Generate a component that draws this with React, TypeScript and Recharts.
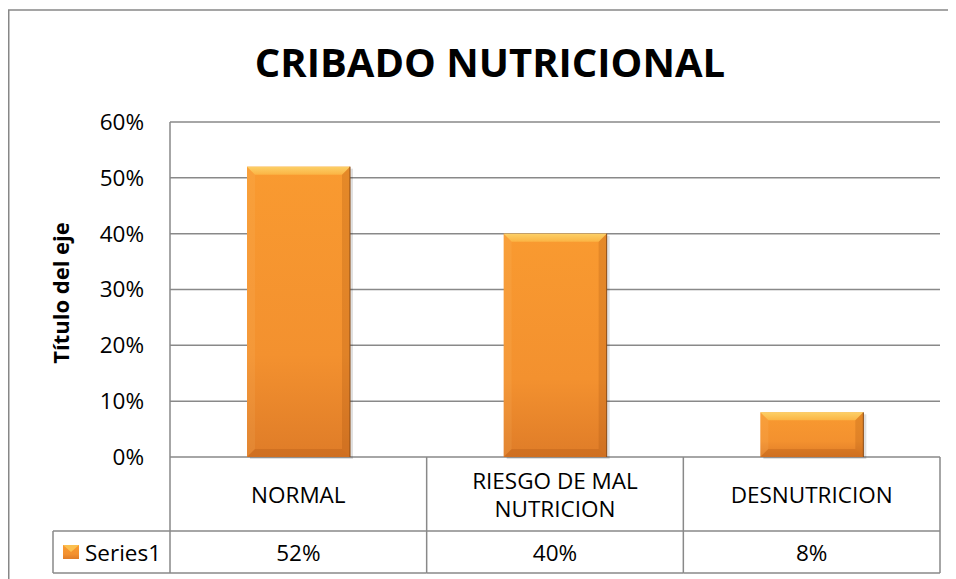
import { Bar, BarChart, CartesianGrid, Customized, XAxis, YAxis } from 'recharts'

const categories = ['NORMAL', 'RIESGO DE MAL NUTRICION', 'DESNUTRICION']
const series1 = [52, 40, 8]
const yTicks = [0, 10, 20, 30, 40, 50, 60]
const seriesName = 'Series1'
const chartTitle = 'CRIBADO NUTRICIONAL'
const yAxisTitle = 'Título del eje'

const data = categories.map((name, i) => ({ name, value: series1[i] }))

const W = 948
const H = 571
const PLOT_RIGHT = 932
const PLOT_LEFT = 162
const PLOT_BOTTOM = 449
const ROW1_BOTTOM = 523
const ROW2_BOTTOM = 565
const TABLE_LEFT = 45
const BAND = (PLOT_RIGHT - PLOT_LEFT) / categories.length
const LINE = '#898989'
const FONT = '"Open Sans", sans-serif'

function wrapLabel(text: string, maxChars = 14) {
  const lines: string[] = []
  let cur = ''
  for (const word of text.split(' ')) {
    const next = cur ? cur + ' ' + word : word
    if (next.length > maxChars && cur) {
      lines.push(cur)
      cur = word
    } else {
      cur = next
    }
  }
  if (cur) lines.push(cur)
  return lines
}

function BevelBar(props: any) {
  const { x, y, width: w, height: h } = props
  if (!h || h <= 0) return null
  const b = Math.min(8, h / 2)
  return (
    <g>
      <rect x={x + 3} y={y + 2} width={w} height={h} fill="rgba(0,0,0,0.12)" />
      <rect x={x} y={y} width={w} height={h} fill="url(#barGrad)" />
      <polygon
        points={`${x},${y} ${x + w},${y} ${x + w - b},${y + b} ${x + b},${y + b}`}
        fill="url(#topBevel)"
      />
      <polygon
        points={`${x + w},${y} ${x + w},${y + h} ${x + w - b},${y + h - b} ${x + w - b},${y + b}`}
        fill="rgba(150,70,10,0.2)"
      />
      <polygon
        points={`${x},${y} ${x + b},${y + b} ${x + b},${y + h - b} ${x},${y + h}`}
        fill="rgba(255,220,150,0.1)"
      />
      <polygon
        points={`${x},${y + h} ${x + b},${y + h - b} ${x + w - b},${y + h - b} ${x + w},${y + h}`}
        fill="rgba(150,70,10,0.22)"
      />
      <line x1={x + w} y1={y} x2={x + w} y2={y + h} stroke="#8a4a14" strokeWidth={1} />
    </g>
  )
}

function TableTick(props: any) {
  const { x, payload, index } = props
  const left = x - BAND / 2
  const right = x + BAND / 2
  const lines = wrapLabel(String(payload.value))
  const midY = (PLOT_BOTTOM + ROW1_BOTTOM) / 2
  const lh = 28
  const valueY = (ROW1_BOTTOM + ROW2_BOTTOM) / 2
  return (
    <g>
      {index === 0 && (
        <g>
          <line x1={left} y1={PLOT_BOTTOM} x2={left} y2={ROW2_BOTTOM} stroke={LINE} strokeWidth={1.5} />
          <line x1={TABLE_LEFT} y1={ROW1_BOTTOM} x2={left} y2={ROW1_BOTTOM} stroke={LINE} strokeWidth={1.5} />
          <line x1={TABLE_LEFT} y1={ROW2_BOTTOM} x2={left} y2={ROW2_BOTTOM} stroke={LINE} strokeWidth={1.5} />
          <line x1={TABLE_LEFT} y1={ROW1_BOTTOM} x2={TABLE_LEFT} y2={ROW2_BOTTOM} stroke={LINE} strokeWidth={1.5} />
          <rect x={TABLE_LEFT + 10} y={valueY - 7} width={16} height={14} fill="url(#barGrad)" />
          <polygon
            points={`${TABLE_LEFT + 10},${valueY - 7} ${TABLE_LEFT + 26},${valueY - 7} ${TABLE_LEFT + 18},${valueY}`}
            fill="#fbc050"
          />
          <text x={TABLE_LEFT + 32} y={valueY} dominantBaseline="central" fontFamily={FONT} fontSize={22.5} fill="#000">
            {seriesName}
          </text>
        </g>
      )}
      <line x1={right} y1={PLOT_BOTTOM} x2={right} y2={ROW2_BOTTOM} stroke={LINE} strokeWidth={1.5} />
      <line x1={left} y1={ROW1_BOTTOM} x2={right} y2={ROW1_BOTTOM} stroke={LINE} strokeWidth={1.5} />
      <line x1={left} y1={ROW2_BOTTOM} x2={right} y2={ROW2_BOTTOM} stroke={LINE} strokeWidth={1.5} />
      {lines.map((ln, i) => (
        <text
          key={i}
          x={x}
          y={midY + (i - (lines.length - 1) / 2) * lh}
          textAnchor="middle"
          dominantBaseline="central"
          fontFamily={FONT}
          fontSize={22.5}
          fill="#000"
        >
          {ln}
        </text>
      ))}
      <text x={x} y={valueY} textAnchor="middle" dominantBaseline="central" fontFamily={FONT} fontSize={22.5} fill="#000">
        {`${series1[index]}%`}
      </text>
    </g>
  )
}

function Decorations() {
  return (
    <g>
      <defs>
        <linearGradient id="barGrad" x1="0" y1="0" x2="0" y2="1">
          <stop offset="0%" stopColor="#f99a30" />
          <stop offset="65%" stopColor="#f3912f" />
          <stop offset="100%" stopColor="#df7c28" />
        </linearGradient>
        <linearGradient id="topBevel" x1="0" y1="0" x2="0" y2="1">
          <stop offset="0%" stopColor="#fcd067" />
          <stop offset="100%" stopColor="#fbb444" />
        </linearGradient>
      </defs>
      <line x1={0.75} y1={2} x2={0.75} y2={H} stroke="#878787" strokeWidth={1.5} />
      <line x1={0} y1={2} x2={W} y2={2} stroke="#878787" strokeWidth={1.5} />
      <text x={482} y={69} textAnchor="middle" fontFamily={FONT} fontWeight={700} fontSize={40} fill="#000">
        {chartTitle}
      </text>
      <text
        x={52}
        y={285}
        transform="rotate(-90 52 285)"
        textAnchor="middle"
        dominantBaseline="central"
        fontFamily={FONT}
        fontWeight={700}
        fontSize={22}
        fill="#000"
      >
        {yAxisTitle}
      </text>
    </g>
  )
}

export default function App() {
  return (
    <BarChart
      width={W}
      height={H}
      data={data}
      margin={{ top: 114, right: W - PLOT_RIGHT, bottom: 0, left: PLOT_LEFT - 100 }}
      barSize={103}
    >
      <Customized component={Decorations} />
      <CartesianGrid vertical={false} stroke={LINE} strokeWidth={1.5} />
      <XAxis
        dataKey="name"
        height={H - PLOT_BOTTOM}
        axisLine={false}
        tickLine={false}
        interval={0}
        tick={<TableTick />}
      />
      <YAxis
        width={100}
        domain={[0, 60]}
        ticks={yTicks}
        tickFormatter={(v: number) => `${v}%`}
        axisLine={{ stroke: LINE, strokeWidth: 1.5 }}
        tickLine={false}
        tickSize={0}
        tickMargin={26}
        tick={{ fill: '#000', fontSize: 22.5, fontFamily: FONT }}
      />
      <Bar dataKey="value" shape={<BevelBar />} isAnimationActive={false} />
    </BarChart>
  )
}
